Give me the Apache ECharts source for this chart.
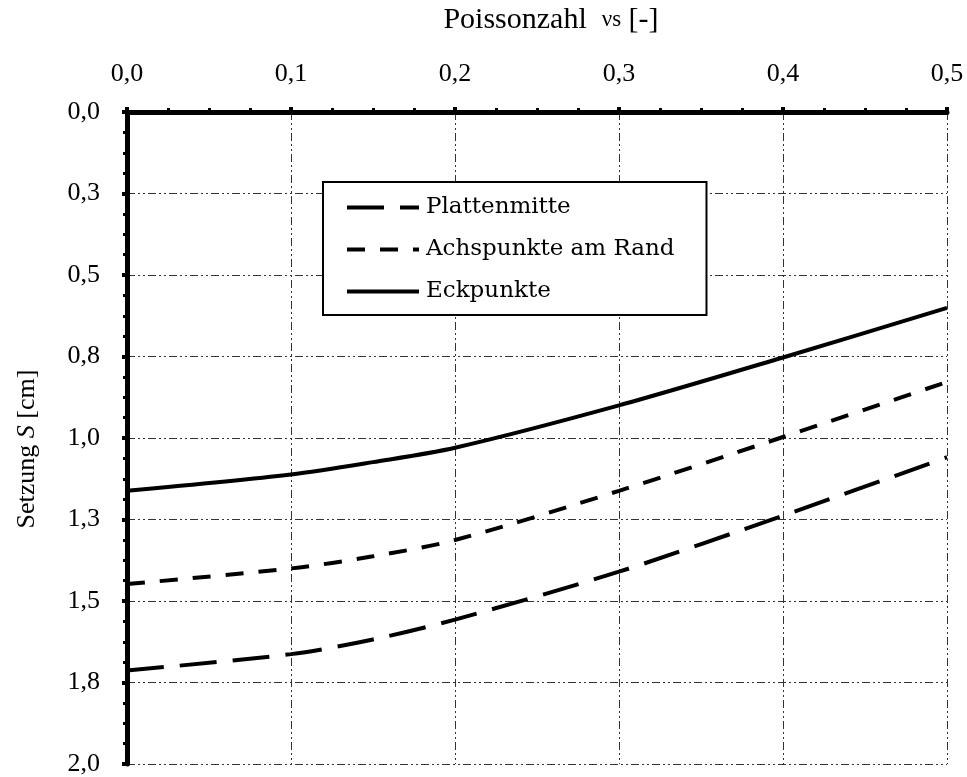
<!DOCTYPE html>
<html>
<head>
<meta charset="utf-8">
<script src="https://cdn.jsdelivr.net/npm/echarts@6/dist/echarts.min.js"></script>
<style>
html,body{margin:0;padding:0;background:#fff;}
#chart{width:967px;height:777px;}
</style>
</head>
<body>
<div id="chart"></div>
<script>
// Poisson ratio values (x) and settlement values (cm)
var poisson = [0.0, 0.1, 0.15, 0.2, 0.3, 0.4, 0.5];
var plattenmitte = [1.713, 1.663, 1.618, 1.557, 1.410, 1.238, 1.059];
var achspunkte   = [1.448, 1.400, 1.363, 1.313, 1.162, 0.997, 0.828];
var eckpunkte    = [1.162, 1.112, 1.074, 1.030, 0.900, 0.753, 0.601];
var seriesNames = ['Plattenmitte', 'Achspunkte am Rand', 'Eckpunkte'];
var xTickLabels = ['0,0', '0,1', '0,2', '0,3', '0,4', '0,5'];
var yTickLabels = ['0,0', '0,3', '0,5', '0,8', '1,0', '1,3', '1,5', '1,8', '2,0'];

function pairs(ys) { return poisson.map(function (x, i) { return [x, ys[i]]; }); }

var SERIF = '"Liberation Serif", "Times New Roman", serif';
var LEGENDFONT = '"DejaVu Serif", serif';
var gridDash = [8, 3, 2, 3, 2, 3];
var chart = echarts.init(document.getElementById('chart'), null, {renderer: 'canvas'});
chart.setOption({
  backgroundColor: '#fff',
  animation: false,
  grid: {left: 127, right: 20, top: 107, bottom: 11, containLabel: false},
  legend: {
    orient: 'vertical',
    left: 323, top: 182,
    padding: [14, 32, 12, 22],
    itemGap: 19,
    itemWidth: 72, itemHeight: 22,
    itemStyle: {opacity: 0},
    lineStyle: {width: 4, color: '#000'},
    backgroundColor: '#fff',
    borderColor: '#000', borderWidth: 2,
    textStyle: {fontFamily: LEGENDFONT, fontSize: 23, color: '#000', padding: [0, 0, 0, 2]},
    data: seriesNames
  },
  xAxis: {
    type: 'value', position: 'top', min: 0, max: 0.5, interval: 0.1,
    name: 'Poissonzahl  {v|νs} [-]', nameLocation: 'middle', nameGap: 77,
    nameTextStyle: {fontFamily: SERIF, fontSize: 30, color: '#000', padding: [0, 0, 0, 28],
      rich: {v: {fontFamily: SERIF, fontSize: 23, color: '#000'}}},
    axisLine: {show: true, onZero: false, lineStyle: {color: '#000', width: 5}},
    axisTick: {show: true, inside: false, length: 5, lineStyle: {color: '#000', width: 4}},
    minorTick: {show: true, splitNumber: 4, length: 4, lineStyle: {color: '#000', width: 3}},
    axisLabel: {fontFamily: SERIF, fontSize: 26, color: '#000', margin: 25,
      formatter: function (v) { return xTickLabels[Math.round(v * 10)]; }},
    splitLine: {show: true, lineStyle: {color: '#333', width: 1, type: gridDash}}
  },
  yAxis: {
    type: 'value', inverse: true, min: 0, max: 2, interval: 0.25,
    name: 'Setzung {i|S} [cm]', nameLocation: 'middle', nameGap: 87, nameRotate: 90,
    nameTextStyle: {fontFamily: SERIF, fontSize: 26, color: '#000', padding: [0, 22, 0, 0],
      rich: {i: {fontFamily: SERIF, fontStyle: 'italic', fontSize: 26, color: '#000'}}},
    axisLine: {show: true, onZero: false, lineStyle: {color: '#000', width: 5}},
    axisTick: {show: true, inside: false, length: 5, lineStyle: {color: '#000', width: 4}},
    minorTick: {show: true, splitNumber: 4, length: 4, lineStyle: {color: '#000', width: 3}},
    axisLabel: {fontFamily: SERIF, fontSize: 26, color: '#000', margin: 27,
      formatter: function (v) { return yTickLabels[Math.round(v * 4)]; }},
    splitLine: {show: true, lineStyle: {color: '#333', width: 1, type: gridDash}}
  },
  series: [
    {name: seriesNames[0], type: 'line', data: pairs(plattenmitte), smooth: 0.3, symbol: 'none',
      lineStyle: {color: '#000', width: 4, type: [37, 16]}, itemStyle: {color: '#000'}, z: 3},
    {name: seriesNames[1], type: 'line', data: pairs(achspunkte), smooth: 0.3, symbol: 'none',
      lineStyle: {color: '#000', width: 4, type: [18, 15]}, itemStyle: {color: '#000'}, z: 3},
    {name: seriesNames[2], type: 'line', data: pairs(eckpunkte), smooth: 0.3, symbol: 'none',
      lineStyle: {color: '#000', width: 4, type: 'solid'}, itemStyle: {color: '#000'}, z: 3}
  ]
});
</script>
</body>
</html>
